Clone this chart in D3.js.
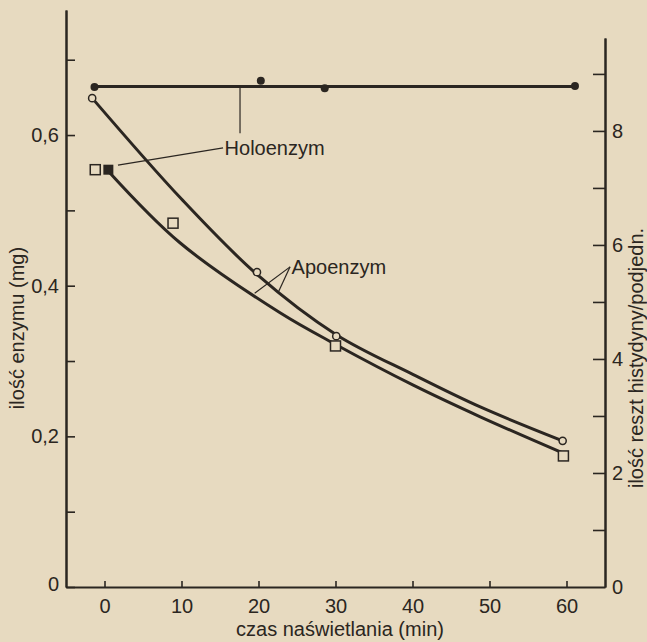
<!DOCTYPE html>
<html>
<head>
<meta charset="utf-8">
<script src="https://cdn.jsdelivr.net/npm/d3@7"></script>
<style>
  body { margin: 0; background: #e7dac0; }
  svg { display: block; }
  text { font-family: "Liberation Sans", Arial, sans-serif; fill: #2b2621; }
</style>
</head>
<body>
<svg id="chart" width="647" height="642"></svg>
<script>
// values
var xTicks = [0, 10, 20, 30, 40, 50, 60];
var leftMajor = [0, 0.2, 0.4, 0.6];
var leftMinor = [0.1, 0.3, 0.5, 0.7];
var rightMajor = [0, 2, 4, 6, 8];
var rightAll = [1, 2, 3, 4, 5, 6, 7, 8, 9];

// Holoenzym: histidine residues (right axis)
var holoT = [-1.3, 20.3, 28.6, 61.1];
var holoHis = [8.77, 8.88, 8.75, 8.79];
var holoLevel = 8.78;
var holoSqT = [0.5];
var holoSqV = [0.554];

// Apoenzym, circles and squares (left axis, mg)
var apoCircT = [-1.6, 19.8, 30.1, 59.5];
var apoCircV = [0.649, 0.418, 0.333, 0.194];
var apoSqT = [-1.2, 8.9, 30.0, 59.6];
var apoSqV = [0.554, 0.483, 0.320, 0.174];

// drawn curves
var upperT = [-1.6, 10, 19.8, 30.1, 40.1, 48.8, 59.5];
var upperV = [0.649, 0.515, 0.415, 0.335, 0.282, 0.239, 0.194];
var lowerT = [0.5, 9.8, 22.8, 30.2, 40.1, 48.8, 59.5];
var lowerV = [0.552, 0.457, 0.364, 0.321, 0.268, 0.226, 0.178];

var ink = "#2b2621";
var svg = d3.select("#chart");
svg.append("rect").attr("width", 647).attr("height", 642).attr("fill", "#e7dac0");

var x = d3.scaleLinear().domain([-5, 65]).range([66, 605]);
var yL = d3.scaleLinear().domain([0, 0.766]).range([587, 10]);
var yR = d3.scaleLinear().domain([0, 9.63]).range([587, 38]);

function comma(d) { return d === 0 ? "0" : d3.format(".1f")(d).replace(".", ","); }

// left axis
var gl = svg.append("g").attr("transform", "translate(66,0)");
gl.call(d3.axisLeft(yL).tickValues(leftMajor).tickSize(-9).tickSizeOuter(0).tickPadding(7).tickFormat(comma));
svg.append("g").attr("transform", "translate(66,0)")
  .call(d3.axisLeft(yL).tickValues(leftMinor).tickSize(-9).tickSizeOuter(0).tickFormat(""));

// right axis
svg.append("g").attr("transform", "translate(605,0)")
  .call(d3.axisRight(yR).tickValues(rightAll).tickSize(-12).tickSizeOuter(0).tickFormat(""));
var gr = svg.append("g").attr("transform", "translate(605,0)");
gr.call(d3.axisRight(yR).tickValues(rightMajor).tickSize(0).tickPadding(7).tickFormat(d3.format("d")));

// bottom axis
var gb = svg.append("g").attr("transform", "translate(0,587)");
gb.call(d3.axisBottom(x).tickValues(xTicks).tickSize(-6).tickSizeOuter(0).tickPadding(12));

svg.selectAll(".domain").attr("stroke", ink).attr("stroke-width", 2);
svg.selectAll(".tick line").attr("stroke", ink).attr("stroke-width", 1.6);
svg.selectAll(".tick text").style("font-size", "20px").attr("fill", ink)
  .style("font-family", "'Liberation Sans', Arial, sans-serif");
gl.selectAll(".tick text").filter(function(d) { return d === 0; }).attr("dy", "0.15em");

// axis titles
svg.append("text").attr("transform", "translate(24,328) rotate(-90)")
  .attr("text-anchor", "middle").style("font-size", "20px").text("ilość enzymu (mg)");
svg.append("text").attr("transform", "translate(643,358) rotate(-90)")
  .attr("text-anchor", "middle").style("font-size", "20px").text("ilość reszt histydyny/podjedn.");
svg.append("text").attr("x", 340).attr("y", 636)
  .attr("text-anchor", "middle").style("font-size", "20px").text("czas naświetlania (min)");

// curves
var lineL = d3.line().x(function(d) { return x(d[0]); }).y(function(d) { return yL(d[1]); })
  .curve(d3.curveCatmullRom);
svg.append("path").datum(d3.zip(upperT, upperV)).attr("d", lineL)
  .attr("fill", "none").attr("stroke", ink).attr("stroke-width", 3);
svg.append("path").datum(d3.zip(lowerT, lowerV)).attr("d", lineL)
  .attr("fill", "none").attr("stroke", ink).attr("stroke-width", 3);

// holoenzym horizontal line
svg.append("line")
  .attr("x1", x(d3.min(holoT))).attr("x2", x(d3.max(holoT)))
  .attr("y1", yR(holoLevel)).attr("y2", yR(holoLevel))
  .attr("stroke", ink).attr("stroke-width", 3);
svg.selectAll(".holo").data(d3.zip(holoT, holoHis)).enter().append("circle")
  .attr("cx", function(d) { return x(d[0]); }).attr("cy", function(d) { return yR(d[1]); })
  .attr("r", 4).attr("fill", ink);

// markers
svg.selectAll(".apoc").data(d3.zip(apoCircT, apoCircV)).enter().append("circle")
  .attr("cx", function(d) { return x(d[0]); }).attr("cy", function(d) { return yL(d[1]); })
  .attr("r", 3.6).attr("fill", "#e7dac0").attr("stroke", ink).attr("stroke-width", 1.5);
var sq = 10;
svg.selectAll(".apos").data(d3.zip(apoSqT, apoSqV)).enter().append("rect")
  .attr("x", function(d) { return x(d[0]) - sq / 2; }).attr("y", function(d) { return yL(d[1]) - sq / 2; })
  .attr("width", sq).attr("height", sq)
  .attr("fill", "#e7dac0").attr("stroke", ink).attr("stroke-width", 1.5);
svg.selectAll(".holos").data(d3.zip(holoSqT, holoSqV)).enter().append("rect")
  .attr("x", function(d) { return x(d[0]) - sq / 2; }).attr("y", function(d) { return yL(d[1]) - sq / 2; })
  .attr("width", sq).attr("height", sq).attr("fill", ink);

// labels with leader lines
var lead = svg.append("g").attr("stroke", ink).attr("stroke-width", 1.2);
lead.append("line").attr("x1", x(17.6)).attr("x2", x(17.6)).attr("y1", yR(holoLevel)).attr("y2", yR(7.96));
lead.append("line").attr("x1", x(1.75)).attr("y1", yL(0.560)).attr("x2", x(15.4)).attr("y2", yL(0.583));
svg.append("text").attr("x", x(15.6)).attr("y", yL(0.583) + 7).style("font-size", "20px").text("Holoenzym");

lead.append("line").attr("x1", x(24.1)).attr("y1", yL(0.425)).attr("x2", x(19.5)).attr("y2", yL(0.390));
lead.append("line").attr("x1", x(24.1)).attr("y1", yL(0.425)).attr("x2", x(22.6)).attr("y2", yL(0.392));
svg.append("text").attr("x", x(24.3)).attr("y", yL(0.425) + 7).style("font-size", "20px").text("Apoenzym");
</script>
</body>
</html>
